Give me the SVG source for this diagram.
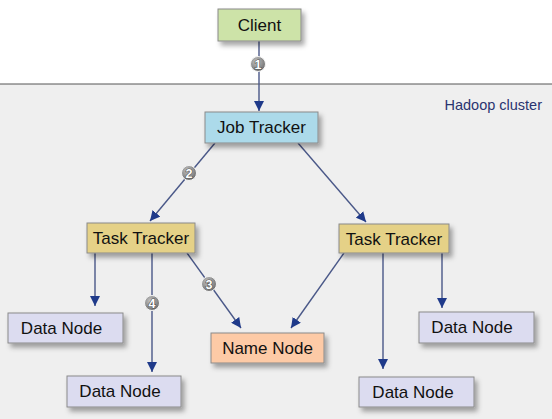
<svg xmlns="http://www.w3.org/2000/svg" width="552" height="419" viewBox="0 0 552 419">
<defs>
<filter id="sh" x="-20%" y="-30%" width="150%" height="180%">
<feDropShadow dx="3" dy="4" stdDeviation="2.5" flood-color="#000" flood-opacity="0.35"/>
</filter>
<radialGradient id="cg" cx="40%" cy="35%" r="65%">
<stop offset="0" stop-color="#c4c4c4"/>
<stop offset="1" stop-color="#707070"/>
</radialGradient>
<marker id="ah" viewBox="0 0 10 10" refX="10" refY="5" markerWidth="10" markerHeight="10" markerUnits="userSpaceOnUse" orient="auto">
<path d="M0,0 L10,5 L0,10 Z" fill="#1f3a8a"/>
</marker>
<style>
.box{stroke:#8a8a8a;stroke-width:1;filter:url(#sh)}
.lbl{font-family:"Liberation Sans",Arial,sans-serif;font-size:17px;fill:#111;text-anchor:middle;dominant-baseline:central}
.conn line{stroke:#4a5888;stroke-width:1.4;marker-end:url(#ah)}
.num circle{fill:url(#cg);stroke:#f4f4f4;stroke-width:1}
.num text{font-family:"Liberation Sans",Arial,sans-serif;font-size:12.5px;font-weight:bold;fill:#fff;stroke:#555;stroke-width:1.2;paint-order:stroke;text-anchor:middle;dominant-baseline:central}
</style>
</defs>
<rect x="0" y="0" width="552" height="419" fill="#ffffff"/>
<rect x="0" y="84" width="552" height="335" fill="#efefef"/>
<line x1="0" y1="84" x2="552" y2="84" stroke="#555" stroke-width="1"/>
<text x="542" y="110" text-anchor="end" font-family="Liberation Sans,Arial,sans-serif" font-size="14.5" fill="#2a3470">Hadoop cluster</text>

<g id="connectors" class="conn">
<line x1="259" y1="41" x2="259" y2="111"/>
<line x1="215" y1="143" x2="150" y2="221"/>
<line x1="298" y1="143" x2="366" y2="222"/>
<line x1="95" y1="253" x2="95" y2="306"/>
<line x1="152" y1="253" x2="152" y2="372"/>
<line x1="187" y1="253" x2="241" y2="328"/>
<line x1="344" y1="253" x2="291" y2="328"/>
<line x1="383" y1="253" x2="383" y2="369"/>
<line x1="442" y1="253" x2="442" y2="308"/>
</g>

<g class="num">
<g id="n1"><circle cx="258" cy="64" r="7.5"/><text x="258" y="64.5">1</text></g>
<g id="n2"><circle cx="189" cy="173" r="7.5"/><text x="189" y="173.5">2</text></g>
<g id="n3"><circle cx="209" cy="284" r="7.5"/><text x="209" y="284.5">3</text></g>
<g id="n4"><circle cx="152" cy="303" r="7.5"/><text x="152" y="303.5">4</text></g>
</g>

<g id="client"><rect class="box" x="218" y="9" width="83" height="32" fill="#cde3a8"/><text class="lbl" x="259.5" y="25.5">Client</text></g>
<g id="jobtracker"><rect class="box" x="205" y="112" width="113" height="31" fill="#acdaea"/><text class="lbl" x="261.5" y="127.5">Job Tracker</text></g>
<g id="tasktracker1"><rect class="box" x="87" y="223" width="108" height="30" fill="#e5d187"/><text class="lbl" x="141" y="238.5">Task Tracker</text></g>
<g id="tasktracker2"><rect class="box" x="339" y="224" width="110" height="29" fill="#e5d187"/><text class="lbl" x="394" y="239">Task Tracker</text></g>
<g id="datanode1"><rect class="box" x="8" y="313" width="115" height="30" fill="#dcdcf0"/><text class="lbl" x="61.5" y="328.5">Data Node</text></g>
<g id="datanode2"><rect class="box" x="67" y="376" width="114" height="31" fill="#dcdcf0"/><text class="lbl" x="120" y="391.5">Data Node</text></g>
<g id="namenode"><rect class="box" x="211" y="333" width="113" height="30" fill="#fdcaa6"/><text class="lbl" x="267.5" y="348.5">Name Node</text></g>
<g id="datanode3"><rect class="box" x="419" y="312" width="115" height="31" fill="#dcdcf0"/><text class="lbl" x="472" y="327.5">Data Node</text></g>
<g id="datanode4"><rect class="box" x="359" y="377" width="115" height="30" fill="#dcdcf0"/><text class="lbl" x="413" y="392">Data Node</text></g>
</svg>
